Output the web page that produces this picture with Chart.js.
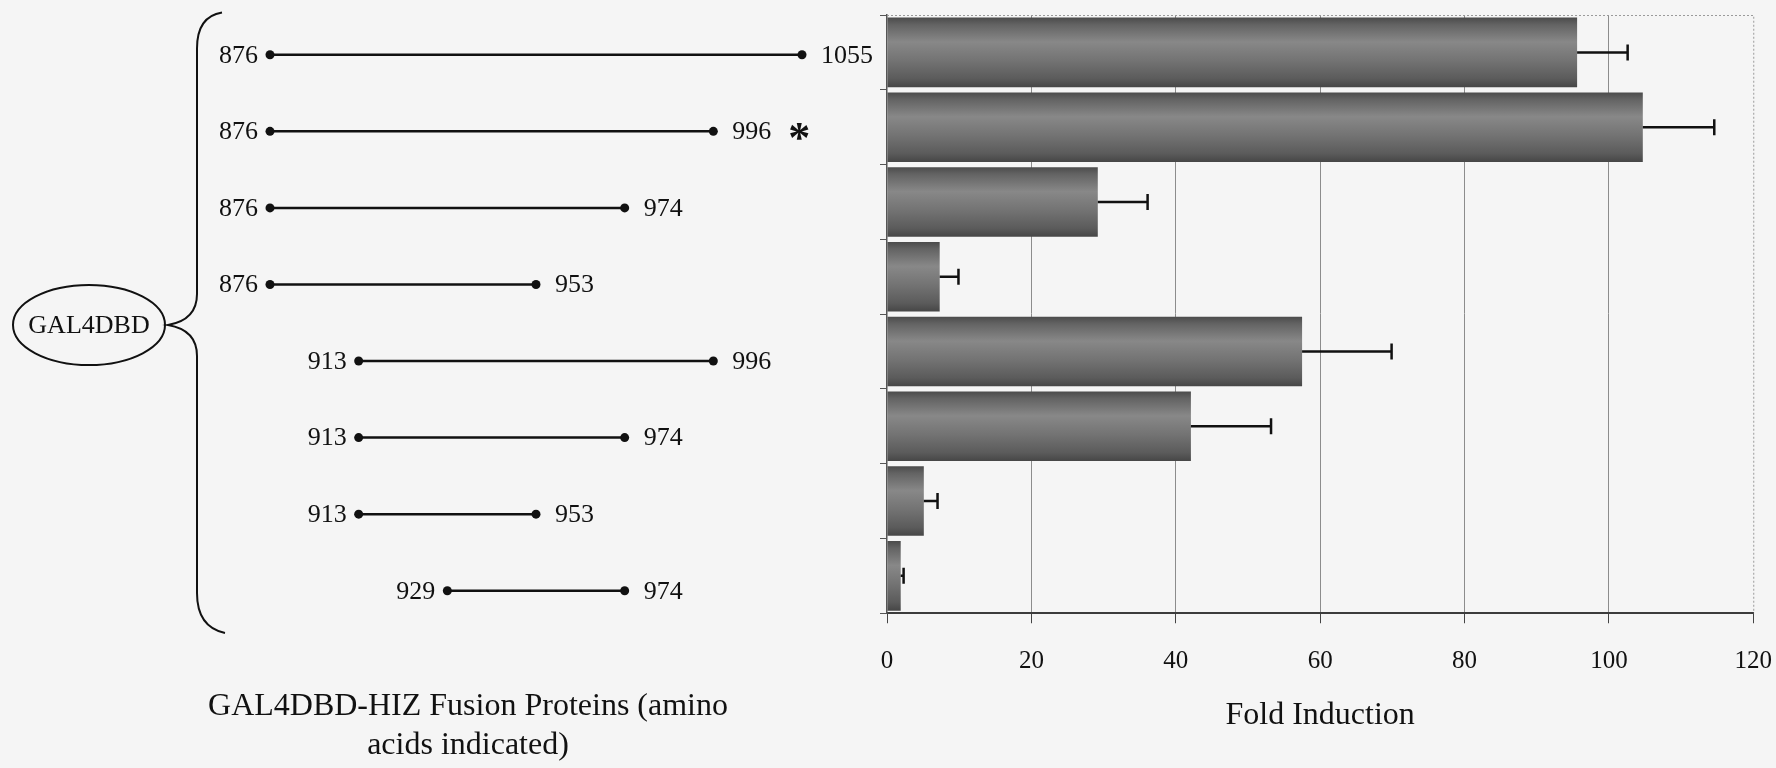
<!DOCTYPE html>
<html>
<head>
<meta charset="utf-8">
<script src="https://cdn.jsdelivr.net/npm/chart.js@4/dist/chart.umd.min.js"></script>
<style>
  html, body { margin: 0; padding: 0; background: #f5f5f5; }
  #wrap { position: relative; width: 1776px; height: 768px; overflow: hidden; }
  #wrap canvas { position: absolute; left: 0; top: 0; }
</style>
</head>
<body>
<div id="wrap">
  <canvas id="map" width="1776" height="768"></canvas>
  <canvas id="fold" width="1776" height="768"></canvas>
</div>
<script>
// HIZ fragments fused to the GAL4 DNA-binding domain (first and last residue)
const fragStart = [876, 876, 876, 876, 913, 913, 913, 929];
const fragEnd   = [1055, 996, 974, 953, 996, 974, 953, 974];
// residue positions marked along the schematic, in order
const residueMarks = [876, 913, 929, 953, 974, 996, 1055];
// construct flagged with an asterisk
const starred = [false, true, false, false, false, false, false, false];
// reporter activity of each construct and its error
const foldInduction = [95.6, 104.7, 29.2, 7.3, 57.5, 42.1, 5.1, 1.9];
const foldError     = [7.0, 9.9, 6.9, 2.6, 12.4, 11.1, 1.9, 0.4];
const foldTicks     = [0, 20, 40, 60, 80, 100, 120];

const constructNames = fragStart.map((s, i) => s + '\u2013' + fragEnd[i]);
const SERIF = "'Liberation Serif', 'Times New Roman', serif";
const INK = '#111111';

/* ---------- left panel: fragment map ---------- */
const mapDecor = {
  id: 'mapDecor',
  afterDatasetsDraw(chart) {
    const ctx = chart.ctx;
    const area = chart.chartArea;
    ctx.save();
    ctx.fillStyle = INK;
    ctx.strokeStyle = INK;
    ctx.textBaseline = 'middle';
    ctx.font = `26px ${SERIF}`;

    chart.data.datasets.forEach((ds, i) => {
      const pts = chart.getDatasetMeta(i).data;
      const a = pts[0], b = pts[1];
      ctx.textAlign = 'right';
      ctx.fillText(String(fragStart[i]), a.x - 12, a.y + 1);
      ctx.textAlign = 'left';
      ctx.fillText(String(fragEnd[i]), b.x + 19, b.y + 1);
      if (starred[i]) {
        ctx.save();
        ctx.font = `bold 44px ${SERIF}`;
        ctx.textAlign = 'center';
        ctx.textBaseline = 'alphabetic';
        ctx.fillText('*', b.x + 86, b.y + 21);
        ctx.restore();
      }
    });

    // curly brace joining the domain to every construct
    const top = area.top - 4, bottom = area.bottom + 4;
    const bx = 197, tipX = 168, tipY = 325;
    ctx.lineWidth = 2;
    ctx.beginPath();
    ctx.moveTo(bx + 25, top);
    ctx.quadraticCurveTo(bx, top + 4, bx, top + 36);
    ctx.lineTo(bx, tipY - 31);
    ctx.quadraticCurveTo(bx, tipY - 5, tipX, tipY);
    ctx.quadraticCurveTo(bx, tipY + 5, bx, tipY + 31);
    ctx.lineTo(bx, bottom - 40);
    ctx.quadraticCurveTo(bx, bottom - 6, bx + 28, bottom);
    ctx.stroke();

    // GAL4 DBD oval
    ctx.beginPath();
    ctx.ellipse(89, tipY, 76, 40, 0, 0, Math.PI * 2);
    ctx.stroke();
    ctx.textAlign = 'center';
    ctx.font = `26px ${SERIF}`;
    ctx.fillText('GAL4DBD', 89, tipY + 1);

    // panel caption
    ctx.font = `32px ${SERIF}`;
    ctx.fillText('GAL4DBD-HIZ Fusion Proteins (amino', 468, 707);
    ctx.fillText('acids indicated)', 468, 746);
    ctx.restore();
  }
};

new Chart(document.getElementById('map'), {
  type: 'line',
  data: {
    datasets: fragStart.map((s, i) => ({
      label: constructNames[i],
      data: [
        { x: String(s), y: constructNames[i] },
        { x: String(fragEnd[i]), y: constructNames[i] }
      ],
      borderColor: INK,
      borderWidth: 2.5,
      pointRadius: 4.5,
      pointBackgroundColor: INK,
      pointBorderWidth: 0,
      clip: false
    }))
  },
  options: {
    responsive: false,
    animation: false,
    events: [],
    layout: { padding: { left: 270, right: 974, top: 16.5, bottom: 139 } },
    plugins: { legend: { display: false }, tooltip: { enabled: false } },
    scales: {
      x: { type: 'category', labels: residueMarks.map(String), offset: false, display: false },
      y: { type: 'category', labels: constructNames, offset: true, display: false }
    }
  },
  plugins: [mapDecor]
});

/* ---------- right panel: fold induction ---------- */
function barFill(c) {
  const chart = c.chart;
  const y = chart.scales.y;
  if (!chart.chartArea || !y) return '#777777';
  const centre = y.getPixelForValue(c.dataIndex);
  const half = (y.height / constructNames.length) * 0.93 / 2;
  const g = chart.ctx.createLinearGradient(0, centre - half, 0, centre + half);
  g.addColorStop(0.00, '#4b4b4b');
  g.addColorStop(0.10, '#636363');
  g.addColorStop(0.35, '#888888');
  g.addColorStop(0.62, '#737373');
  g.addColorStop(0.88, '#5b5b5b');
  g.addColorStop(1.00, '#464646');
  return g;
}

const errorBars = {
  id: 'errorBars',
  beforeDatasetsDraw(chart) {
    const { ctx, chartArea: a } = chart;
    ctx.save();
    ctx.strokeStyle = '#9a9a9a';
    ctx.lineWidth = 1;
    ctx.setLineDash([2, 2]);
    ctx.beginPath();
    ctx.moveTo(a.left, a.top + 0.5);
    ctx.lineTo(a.right + 0.5, a.top + 0.5);
    ctx.lineTo(a.right + 0.5, a.bottom);
    ctx.stroke();
    ctx.restore();
  },
  afterDatasetsDraw(chart) {
    const { ctx, scales: { x, y } } = chart;
    ctx.save();
    ctx.strokeStyle = INK;
    ctx.lineWidth = 2.5;
    foldInduction.forEach((v, i) => {
      const yc = y.getPixelForValue(i);
      const x0 = x.getPixelForValue(v);
      const x1 = x.getPixelForValue(v + foldError[i]);
      ctx.beginPath();
      ctx.moveTo(x0, yc);
      ctx.lineTo(x1, yc);
      ctx.moveTo(x1, yc - 8);
      ctx.lineTo(x1, yc + 8);
      ctx.stroke();
    });
    ctx.restore();
  }
};

new Chart(document.getElementById('fold'), {
  type: 'bar',
  data: {
    labels: constructNames,
    datasets: [{
      label: 'Fold Induction',
      data: foldInduction,
      backgroundColor: barFill,
      borderWidth: 0,
      categoryPercentage: 1.0,
      barPercentage: 0.93
    }]
  },
  options: {
    indexAxis: 'y',
    responsive: false,
    animation: false,
    events: [],
    layout: { padding: { left: 880, right: 19, top: 15, bottom: 33.6 } },
    plugins: { legend: { display: false }, tooltip: { enabled: false } },
    scales: {
      x: {
        type: 'linear',
        min: 0,
        max: 120,
        afterBuildTicks: s => { s.ticks = foldTicks.map(v => ({ value: v })); },
        ticks: { font: { family: SERIF, size: 25, lineHeight: 2.77 }, color: INK, padding: 4, maxRotation: 0 },
        grid: {
          color: c => (c.tick && (c.tick.value === 0 || c.tick.value === 120)) ? 'rgba(0,0,0,0)' : '#8c8c8c',
          lineWidth: 1,
          tickLength: 10,
          tickColor: '#444444'
        },
        border: { display: true, color: '#3c3c3c', width: 2 },
        title: {
          display: true,
          text: 'Fold Induction',
          font: { family: SERIF, size: 32 },
          color: INK,
          padding: { top: -4.5, bottom: 0 }
        }
      },
      y: {
        type: 'category',
        ticks: { display: false },
        grid: { drawOnChartArea: false, tickLength: 7, tickColor: '#555555', offset: true },
        border: { display: true, color: '#555555', width: 1.5 }
      }
    }
  },
  plugins: [errorBars]
});
</script>
</body>
</html>
